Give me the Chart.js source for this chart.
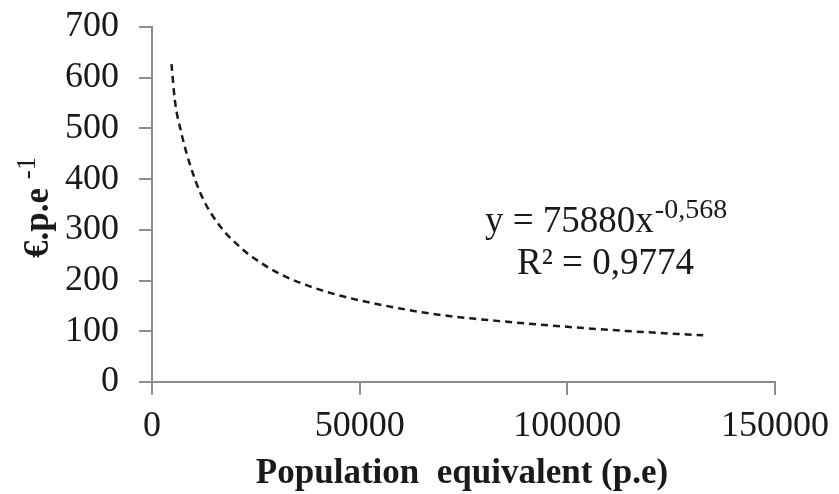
<!DOCTYPE html>
<html>
<head>
<meta charset="utf-8">
<script src="https://cdn.jsdelivr.net/npm/chart.js@4/dist/chart.umd.min.js"></script>
<style>
html,body{margin:0;padding:0;background:#fff;}
#wrap{position:relative;width:839px;height:494px;}
</style>
</head>
<body>
<div id="wrap"><canvas id="c" width="839" height="494"></canvas></div>
<script>
// Data
const popEquivalent = [4700, 5500, 7100, 9100, 12000, 16400, 21200, 24400, 30800, 37200, 44500, 51700, 59700, 66900, 77300, 83800, 98200, 113400, 132700];
const costPerPe     = [627, 556, 490, 430, 366, 307, 266, 245, 213, 191, 172, 158, 145, 135, 125, 120, 110, 101, 92];
const xTicks = [0, 50000, 100000, 150000];
const yTicks = [0, 100, 200, 300, 400, 500, 600, 700];
const xTitle = 'Population  equivalent (p.e)';
const yTitleMain = '€.p.e';
const yTitleSup = '-1';
const eqMain = 'y = 75880x';
const eqSup = '-0,568';
const r2Text = 'R² = 0,9774';

const SERIF = '"Liberation Serif", "Times New Roman", serif';
const AXIS = '#8c8c8c';
const INK = '#1a1a1a';

const titlesPlugin = {
  id: 'titles',
  afterDraw(chart) {
    const ctx = chart.ctx;
    ctx.save();
    ctx.fillStyle = INK;
    ctx.font = 'bold 35px ' + SERIF;
    ctx.textAlign = 'center';
    ctx.textBaseline = 'alphabetic';
    ctx.fillText(xTitle, 462, 483);
    ctx.translate(48, 258);
    ctx.rotate(-Math.PI / 2);
    ctx.textAlign = 'left';
    ctx.font = 'bold 35px ' + SERIF;
    ctx.fillText(yTitleMain, 0, 0);
    const w = ctx.measureText(yTitleMain + ' ').width;
    ctx.font = '27px ' + SERIF;
    ctx.fillText(yTitleSup, w, -13);
    ctx.restore();

    ctx.save();
    ctx.fillStyle = INK;
    ctx.textBaseline = 'alphabetic';
    ctx.textAlign = 'left';
    ctx.font = '37px ' + SERIF;
    ctx.fillText(eqMain, 485, 232);
    const mw = ctx.measureText(eqMain).width;
    ctx.font = '28px ' + SERIF;
    ctx.fillText(eqSup, 485 + mw + 1, 218);
    ctx.font = '37px ' + SERIF;
    ctx.fillText(r2Text, 517, 274);
    ctx.restore();
  }
};

new Chart(document.getElementById('c'), {
  type: 'scatter',
  data: {
    datasets: [{
      data: popEquivalent.map((x, i) => ({x: x, y: costPerPe[i]})),
      showLine: true,
      pointRadius: 0,
      borderColor: INK,
      borderWidth: 2.5,
      borderDash: [7, 5],
      cubicInterpolationMode: 'monotone',
      fill: false
    }]
  },
  options: {
    responsive: false,
    animation: false,
    devicePixelRatio: 1,
    layout: { padding: { left: 0, right: 64, top: 27, bottom: 0 } },
    plugins: { legend: { display: false }, tooltip: { enabled: false } },
    scales: {
      x: {
        type: 'linear',
        min: 0, max: 150000,
        afterBuildTicks(s) { s.ticks = xTicks.map(v => ({value: v})); },
        afterFit(s) { s.height = 112; s.paddingLeft = 0; s.paddingRight = 0; },
        ticks: {
          font: { family: SERIF, size: 36 },
          color: INK,
          padding: 10,
          maxRotation: 0,
          autoSkip: false,
          callback: v => String(v)
        },
        grid: { drawOnChartArea: false, drawTicks: true, tickLength: 13, color: AXIS, lineWidth: 2 },
        border: { color: AXIS, width: 2 }
      },
      y: {
        type: 'linear',
        min: 0, max: 700,
        afterBuildTicks(s) { s.ticks = yTicks.map(v => ({value: v})); },
        afterFit(s) { s.width = 152; s.paddingTop = 0; s.paddingBottom = 0; },
        ticks: {
          font: { family: SERIF, size: 36 },
          color: INK,
          padding: 20,
          autoSkip: false,
          callback: v => String(v)
        },
        grid: { drawOnChartArea: false, drawTicks: true, tickLength: 13, color: AXIS, lineWidth: 2 },
        border: { color: AXIS, width: 2 }
      }
    }
  },
  plugins: [titlesPlugin]
});
</script>
</body>
</html>
